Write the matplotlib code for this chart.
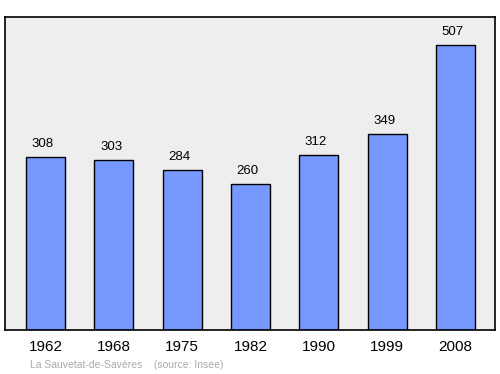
import matplotlib.pyplot as plt

years = ["1962", "1968", "1975", "1982", "1990", "1999", "2008"]
population = [308, 303, 284, 260, 312, 349, 507]

plt.rcParams["font.family"] = ["Liberation Sans", "DejaVu Sans"]

fig = plt.figure(figsize=(5, 3.74), dpi=100)
ax = fig.add_axes([0.01, 0.1176, 0.98, 0.8370])
ax.set_facecolor("#eeeeee")

x = range(len(years))
ax.bar(x, population, width=0.57, color="#7799ff", edgecolor="black", linewidth=1)
for xi, v in zip(x, population):
    ax.annotate(str(v), (xi, v), xytext=(-2, 5), textcoords="offset points",
                ha="center", va="bottom", fontsize=9.5)

ax.set_xlim(-0.593, 6.578)
ax.set_ylim(0, 557)
ax.set_yticks([])
ax.set_xticks(list(x))
ax.set_xticklabels(years, fontsize=11)
ax.tick_params(axis="x", length=0, pad=7)
for s in ax.spines.values():
    s.set_linewidth(1.2)

fig.text(0.06, 0.012, "La Sauvetat-de-Savères    (source: Insee)",
         fontsize=7.5, color="#aaaaaa", ha="left", va="bottom")

fig.savefig("out.png", dpi=100)
